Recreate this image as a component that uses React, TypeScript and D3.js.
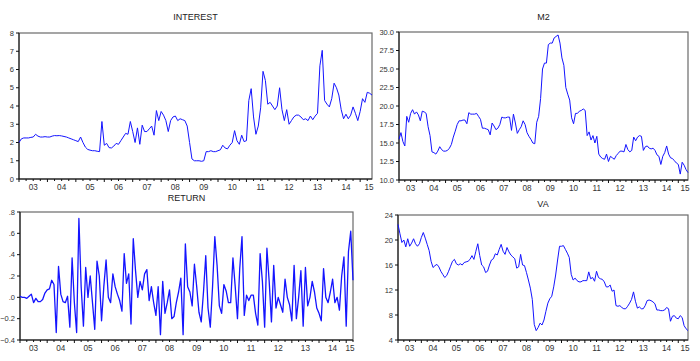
import React from "react";
import * as d3 from "d3";

const START_YEAR = 2003;

const yearLabels = ["03", "04", "05", "06", "07", "08", "09", "10", "11", "12", "13", "14", "15"];

const interest = [
  2.0, 2.2, 2.25, 2.25, 2.25, 2.28, 2.3, 2.45, 2.35, 2.3, 2.3, 2.32,
  2.3, 2.3, 2.35, 2.38, 2.37, 2.38, 2.36, 2.33, 2.3, 2.25, 2.2, 2.15,
  2.1, 2.05, 2.3, 2.0, 1.75, 1.62, 1.58, 1.55, 1.55, 1.52, 1.5, 3.15,
  1.85, 1.95, 1.72, 1.7, 1.8, 1.95, 1.9, 2.1, 2.3, 2.5, 2.45, 3.15,
  2.6, 2.0, 2.8, 1.9, 2.95, 2.6, 2.6, 2.75, 2.9, 2.4, 3.75, 3.2,
  3.7, 3.5, 3.2, 2.6, 3.2, 3.4, 3.45, 3.2, 3.3, 3.25, 3.2, 2.9,
  2.0, 1.1, 1.0, 1.0, 1.0, 0.97, 1.0, 1.5, 1.5, 1.55, 1.5, 1.5,
  1.55, 1.6, 1.85, 1.7, 1.65, 1.85, 2.0, 2.65, 2.1, 1.9, 2.4, 2.05,
  2.1, 4.3, 4.95, 3.4, 2.45, 2.9, 3.9, 5.9, 5.4, 4.1, 4.2, 4.0,
  3.8, 4.0, 5.0, 3.8, 3.2, 3.8, 3.0, 3.2, 3.4, 3.5, 3.5, 3.4,
  3.25, 3.3, 3.2, 3.45, 3.25, 3.45, 3.6, 6.2, 7.05, 4.3, 4.1, 3.95,
  4.4, 5.25, 5.0, 4.6, 3.8, 3.3, 3.55, 3.3, 3.5, 3.95, 3.6, 3.2,
  3.7, 4.4, 4.2, 4.75, 4.7, 4.6,
];

const m2 = [
  15.5, 16.4, 15.2, 14.6, 18.6, 17.8, 19.0, 19.5, 18.9, 19.2, 18.8, 18.0,
  19.3, 19.2, 19.0, 17.2, 16.0, 13.8, 13.7, 13.5, 13.9, 14.5, 14.1, 13.9,
  13.9, 14.0, 14.3, 14.8, 15.8, 16.6, 17.5, 18.0, 18.0, 18.1, 18.1, 17.6,
  19.1, 18.9, 18.9, 18.9, 19.0, 18.6, 18.2, 17.0, 17.0, 16.9, 16.8, 16.1,
  17.7, 17.3, 16.8, 17.0, 17.5, 18.5, 18.4, 18.4, 18.5, 18.5, 16.7, 18.9,
  17.7, 16.3, 16.8, 17.2, 18.0, 17.5, 16.4, 15.9, 15.5, 15.0, 14.9, 17.8,
  18.6, 21.0, 25.0, 25.8, 25.8, 28.3, 28.5, 28.5, 29.2, 29.4, 29.6, 28.5,
  26.5, 25.5, 22.5, 21.6, 20.8, 18.4, 17.6, 19.0, 19.0, 19.3, 19.4, 19.6,
  19.4, 16.0, 16.5, 15.4, 16.0, 15.0, 15.9, 13.5, 13.1, 12.9, 12.8, 13.5,
  12.5, 13.2, 13.0, 12.8, 13.3, 13.6, 13.9, 13.9, 13.8, 14.8, 14.1, 13.8,
  14.0, 15.8, 15.3, 15.8, 16.0, 15.9, 14.0, 14.5, 14.6, 14.3, 14.2, 14.3,
  14.0, 13.4, 13.2, 12.1, 13.2, 13.7, 14.6, 13.5, 13.0, 12.9, 12.6, 12.3,
  12.1, 10.8, 12.4, 12.0, 11.4, 11.0,
];

const returnSeries = [
  0.01, 0.0, 0.0, -0.01, 0.01, 0.03, -0.05, -0.01, -0.04, -0.04, -0.02, 0.04,
  0.07, 0.08, 0.16, 0.12, -0.33, 0.29, 0.03, -0.04, -0.05, 0.01, -0.28, 0.37,
  -0.05, -0.33, 0.74, 0.1, -0.27, 0.28, 0.0, 0.2, -0.05, -0.3, 0.34, 0.2,
  -0.22, 0.1, 0.35, 0.0, -0.05, 0.22, 0.1, 0.03, -0.03, -0.13, 0.41, 0.13,
  0.22, -0.25, 0.55, 0.25, 0.0, 0.15, 0.07, 0.22, 0.26, -0.03, 0.1, -0.05,
  -0.17, 0.1, -0.35, 0.15, -0.15, -0.05, 0.07, -0.2, -0.18, -0.05, 0.05, 0.18,
  -0.35, 0.5, 0.1, 0.05, -0.08, 0.31, 0.1, -0.14, -0.23, 0.05, 0.39, -0.1,
  -0.28, 0.1, 0.57, 0.3, -0.08, -0.15, 0.12, 0.06, -0.05, -0.05, 0.37, 0.1,
  -0.2, 0.27, 0.57, -0.17, 0.02, -0.03, 0.02, 0.02, -0.15, -0.26, 0.41, 0.15,
  -0.28, 0.46, 0.15, -0.23, 0.3, -0.1, 0.0, -0.07, -0.14, 0.17, 0.0, -0.07,
  -0.22, 0.3, -0.2, 0.0, 0.25, -0.27, 0.28, -0.08, 0.0, 0.15, 0.05, -0.1,
  -0.15, -0.22, 0.27, 0.0, -0.05, 0.05, 0.17, -0.05, 0.0, -0.12, 0.2, 0.38,
  -0.27, 0.43, 0.62, 0.16,
];

const va = [
  22.5, 21.0, 19.6, 20.0, 18.9, 20.2, 19.0, 19.5, 20.2, 19.4, 19.0, 19.4,
  20.4, 21.2, 20.3, 19.3, 18.3, 16.6, 15.6, 15.9, 16.1, 15.7, 15.0, 14.5,
  14.0, 14.3, 15.0, 15.8, 16.6, 16.9, 16.2, 16.0, 16.2, 16.0, 16.4, 16.5,
  16.6, 16.9, 17.5, 16.9, 18.2, 19.4, 17.5, 16.0, 15.7, 14.8, 15.0, 16.0,
  16.8, 17.0, 17.8, 17.6, 18.5, 19.3, 18.2, 17.7, 18.8, 18.1, 17.6, 17.3,
  17.0, 15.5, 15.7, 17.7, 16.0, 15.9, 14.8, 13.6, 12.3, 10.5, 6.5, 5.5,
  6.0, 6.7, 6.4, 7.2, 8.6, 9.9, 10.6, 11.0, 12.5, 14.4, 16.8, 19.0,
  19.0, 19.1, 18.5, 17.9, 17.2, 14.5, 13.6, 13.9, 13.5, 13.3, 13.3, 13.5,
  13.5, 13.5, 14.9, 13.8, 14.0, 13.4, 15.0, 14.0, 13.8, 13.7, 13.3, 12.5,
  12.5, 12.8, 11.8, 12.0, 9.5, 9.4, 9.5, 9.2, 9.0, 9.0, 9.4, 9.9,
  10.5, 11.7, 10.2, 9.1, 9.3, 9.0, 9.0, 9.5, 10.3, 10.4, 10.3, 10.1,
  9.8, 8.8, 8.8, 8.7, 8.7, 8.8, 9.2, 9.0, 7.0, 7.8, 7.9, 7.5,
  7.4, 7.9, 7.6, 6.3, 5.8, 5.5,
];

const FONT = "'Liberation Sans', Arial, Helvetica, sans-serif";
const LINE_COLOR = "#1414ff";

type PanelSpec = {
  title: string;
  values: number[];
  left: number;
  right: number;
  top: number;
  bottom: number;
  yDomain: [number, number];
  yStep: number;
  fmt: (v: number) => string;
  titleY: number;
  strokeWidth: number;
};

const fmtInt = (v: number) => d3.format("d")(v);
const fmtOne = (v: number) => d3.format(".1f")(v);
const fmtRet = (v: number) => d3.format(".1f")(v).replace(/^(-?)0\./, "$1.");

const panels: PanelSpec[] = [
  { title: "INTEREST", values: interest, left: 19, right: 372, top: 33, bottom: 179, yDomain: [0, 8], yStep: 1, fmt: fmtInt, titleY: 20, strokeWidth: 1 },
  { title: "M2", values: m2, left: 399, right: 688, top: 32, bottom: 180, yDomain: [10, 30], yStep: 2.5, fmt: fmtOne, titleY: 20, strokeWidth: 1 },
  { title: "RETURN", values: returnSeries, left: 20, right: 353, top: 212, bottom: 340, yDomain: [-0.4, 0.8], yStep: 0.2, fmt: fmtRet, titleY: 200.5, strokeWidth: 1.3 },
  { title: "VA", values: va, left: 398, right: 688, top: 215, bottom: 340, yDomain: [4, 24], yStep: 4, fmt: fmtInt, titleY: 206.5, strokeWidth: 1 },
];

function Panel({ p }: { p: PanelSpec }) {
  const n = p.values.length;
  const tOf = (i: number) => START_YEAR + i / 12;
  const tEnd = tOf(n - 1);
  const x = d3.scaleLinear().domain([START_YEAR, tEnd]).range([p.left, p.right]);
  const y = d3.scaleLinear().domain(p.yDomain).range([p.bottom, p.top]);
  const line = d3
    .line<number>()
    .x((_, i) => x(tOf(i)))
    .y((d) => y(d));

  const yTicks = d3.range(p.yDomain[0], p.yDomain[1] + p.yStep / 2, p.yStep);
  const quarterTicks = d3.range(START_YEAR * 4, Math.floor(tEnd * 4) + 1).map((q) => q / 4);

  return (
    <g>
      <text
        x={(p.left + p.right) / 2}
        y={p.titleY}
        textAnchor="middle"
        fontFamily={FONT}
        fontSize={9}
        fill="#222"
      >
        {p.title}
      </text>
      <rect x={p.left} y={p.top} width={p.right - p.left} height={p.bottom - p.top} fill="none" stroke="#6a6a6a" strokeWidth={1.2} />
      <line x1={p.left} x2={p.left} y1={p.top} y2={p.bottom} stroke="#111" strokeWidth={1} />
      <line x1={p.left} x2={p.right} y1={p.bottom} y2={p.bottom} stroke="#111" strokeWidth={1} />
      {yTicks.map((v) => (
        <g key={v}>
          <line x1={p.left - 3} x2={p.left} y1={y(v)} y2={y(v)} stroke="#111" strokeWidth={1} />
          <text x={p.left - 5} y={y(v) + 2.6} textAnchor="end" fontFamily={FONT} fontSize={7.5} fill="#333">
            {p.fmt(v)}
          </text>
        </g>
      ))}
      {quarterTicks.map((q) => (
        <line
          key={q}
          x1={x(q)}
          x2={x(q)}
          y1={p.bottom}
          y2={p.bottom + (Number.isInteger(q) ? 3 : 2)}
          stroke="#111"
          strokeWidth={1}
        />
      ))}
      {yearLabels.map((lab, i) => {
        const xc = Math.min(x(START_YEAR + i + 0.5), p.right - 3);
        return (
          <text key={lab} x={xc} y={p.bottom + 11} textAnchor="middle" fontFamily={FONT} fontSize={8.2} fill="#333">
            {lab}
          </text>
        );
      })}
      <path d={line(p.values) || ""} fill="none" stroke={LINE_COLOR} strokeWidth={p.strokeWidth} strokeLinejoin="round" />
    </g>
  );
}

export default function App() {
  return (
    <svg
      width={700}
      height={361}
      viewBox="0 0 700 361"
      style={{ position: "absolute", left: 0, top: 0, background: "#fff" }}
    >
      <rect x={0} y={0} width={700} height={361} fill="#fff" />
      {panels.map((p) => (
        <Panel key={p.title} p={p} />
      ))}
    </svg>
  );
}
